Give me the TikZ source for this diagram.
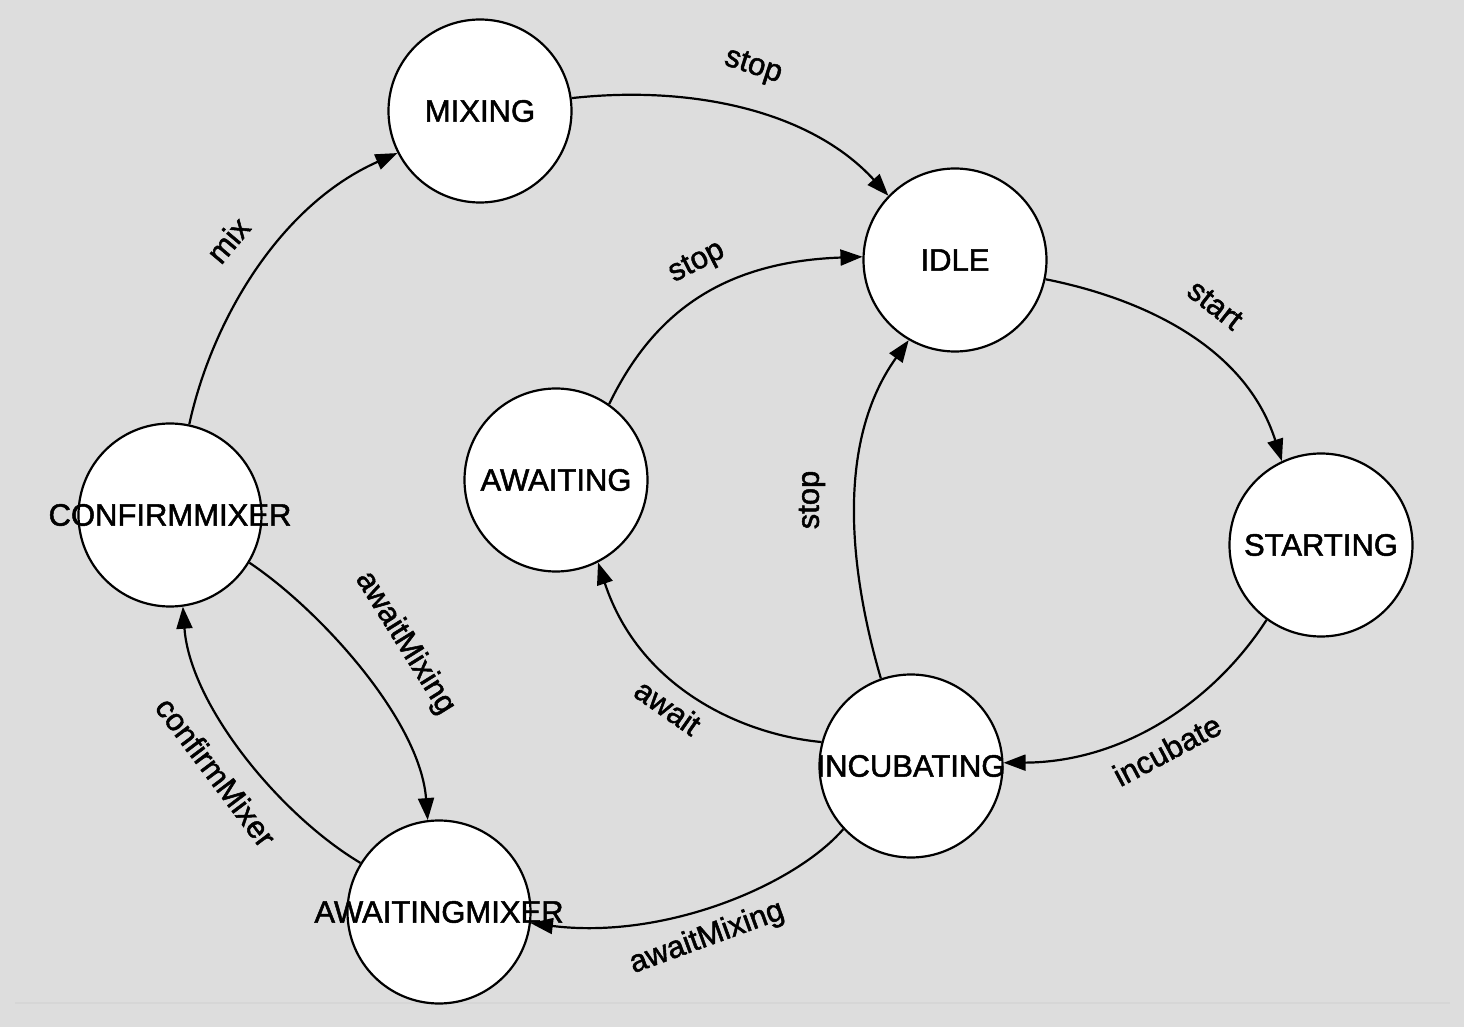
\documentclass[tikz,border=0pt]{standalone}
\usepackage{fontspec}
\newfontfamily\diagfont{Liberation Sans}[FakeBold=1.6]
\usetikzlibrary{arrows.meta}
\definecolor{bg}{HTML}{DDDDDD}
\definecolor{bgline}{HTML}{D6D6D6}
\begin{document}
\begin{tikzpicture}[x=0.5pt,y=-0.5pt,
  state/.style={circle,draw=black,fill=white,line width=1.1pt,minimum size=91.5pt,inner sep=0pt,font=\diagfont\fontsize{15.5}{18}\selectfont},
  trans/.style={line width=1.1pt,-{Triangle[length=11pt,width=8pt]}},
  lbl/.style={font=\diagfont\fontsize{15.5}{18}\selectfont,inner sep=0pt}]
\fill[bg] (0,0) rectangle (1464,1027);
\useasboundingbox (0,0) rectangle (1464,1027);
\draw[bgline,line width=1pt] (15,1003) -- (1450,1003);

\node[state] (mixing) at (480,111) {\makebox[0pt]{MIXING}};
\node[state] (idle) at (955,260) {\makebox[0pt]{IDLE}};
\node[state] (awaiting) at (556,480) {\makebox[0pt]{AWAITING}};
\node[state] (starting) at (1321,545) {\makebox[0pt]{STARTING}};
\node[state] (confirmmixer) at (170,515) {\makebox[0pt]{CONFIRMMIXER}};
\node[state] (incubating) at (911,766) {\makebox[0pt]{INCUBATING}};
\node[state] (awaitingmixer) at (439,912) {\makebox[0pt]{AWAITINGMIXER}};

\draw[trans] (mixing.8) .. controls (690,85) and (810,110) .. (idle.136);
\node[lbl,rotate=-18] (l1) at (753,67) {stop};

\draw[trans] (idle.-12) .. controls (1140,298) and (1245,345) .. (starting.115);
\node[lbl,rotate=-38] (l2) at (1215,305) {start};

\draw[trans] (starting.234) .. controls (1215,700) and (1125,762) .. (incubating.2);
\node[lbl,rotate=28] (l3) at (1167,750) {incubate};

\draw[trans] (incubating.109) .. controls (855,590) and (830,450) .. (idle.240);
\node[lbl,rotate=90] (l4) at (812,500) {stop};

\draw[trans] (incubating.165) .. controls (745,735) and (640,690) .. (awaiting.-63);
\node[lbl,rotate=-35] (l5) at (668,707) {await};

\draw[trans] (awaiting.55) .. controls (650,320) and (715,262) .. (idle.178);
\node[lbl,rotate=27] (l6) at (697,263) {stop};

\draw[trans] (incubating.223) .. controls (795,885) and (665,940) .. (awaitingmixer.-7);
\node[lbl,rotate=20] (l7) at (707,938) {awaitMixing};

\draw[trans] (awaitingmixer.148) .. controls (280,815) and (190,705) .. (confirmmixer.-82);
\node[lbl,rotate=-53] (l8) at (216,772) {confirmMixer};

\draw[trans] (confirmmixer.-31) .. controls (320,610) and (420,720) .. (awaitingmixer.97);
\node[lbl,rotate=-58] (l9) at (405,643) {awaitMixing};

\draw[trans] (confirmmixer.78) .. controls (212,320) and (280,205) .. (mixing.207);
\node[lbl,rotate=50] (l10) at (228,240) {mix};
\end{tikzpicture}
\end{document}
